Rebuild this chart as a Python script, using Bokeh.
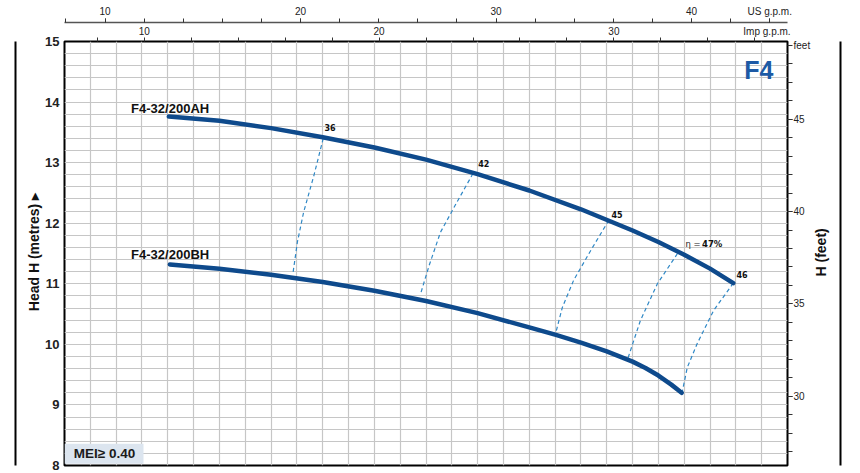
import math
from bokeh.plotting import figure
from bokeh.models import Range1d, LinearAxis, FixedTicker
from bokeh.core.properties import value
from bokeh.embed import file_html
from bokeh.resources import INLINE

# ---------------- data (flow Q in l/min, head H in metres) ----------------
q_ah = [50.2, 60, 70, 80, 90, 100, 110, 120, 130, 140, 145, 150, 155, 159.5]
h_ah = [13.76, 13.69, 13.57, 13.42, 13.25, 13.05, 12.81, 12.54, 12.23, 11.88, 11.69, 11.48, 11.25, 11.01]
q_bh = [50.4, 60, 70, 80, 90, 100, 110, 120, 125, 130, 135, 140, 142.5, 145, 147.5, 149.5]
h_bh = [11.32, 11.25, 11.15, 11.03, 10.885, 10.715, 10.515, 10.28, 10.16, 10.03, 9.885, 9.715,
        9.61, 9.485, 9.335, 9.20]

eff_names = ["36", "42", "45", "47", "46"]
eff_q = [[80.1, 78.3, 76.3, 75.1, 74.2],
         [109.1, 106.0, 102.8, 100.6, 98.9],
         [135.4, 131.9, 128.6, 126.4, 125.1],
         [148.7, 144.8, 141.5, 139.1],
         [159.5, 155.7, 152.5, 150.6, 149.6]]
eff_h = [[13.40, 12.79, 12.18, 11.69, 11.15],
         [12.82, 12.35, 11.85, 11.30, 10.82],
         [12.05, 11.55, 11.06, 10.61, 10.18],
         [11.50, 11.00, 10.39, 9.77],
         [11.01, 10.56, 10.01, 9.62, 9.21]]

m_ticks = [8, 9, 10, 11, 12, 13, 14, 15]
ft_ticks = [30, 35, 40, 45, 49]
imp_ticks = [10, 20, 30]
us_ticks = [10, 20, 30, 40, 44]

Q_MIN, Q_MAX = 30, 170
H_MIN, H_MAX = 8, 15
L_PER_IMP = 4.54609
L_PER_US = 3.78541
M_PER_FT = 0.3048

FONT = "Liberation Sans"
CURVE = "#0e4a8c"
DASH = "#2f88c6"

p = figure(width=858, height=472,
           x_range=Range1d(Q_MIN, Q_MAX), y_range=Range1d(H_MIN, H_MAX),
           x_axis_location=None, y_axis_location=None,
           toolbar_location=None, output_backend="svg",
           min_border_left=64, min_border_right=71, min_border_top=41, min_border_bottom=7)
p.outline_line_color = "black"
p.outline_line_width = 2
p.background_fill_color = "white"
p.border_fill_color = "white"

p.extra_x_ranges = {"imp": Range1d(Q_MIN / L_PER_IMP, Q_MAX / L_PER_IMP),
                    "us": Range1d(Q_MIN / L_PER_US, Q_MAX / L_PER_US)}
p.extra_y_ranges = {"ft": Range1d(H_MIN / M_PER_FT, H_MAX / M_PER_FT)}

# grid
p.xgrid.ticker = FixedTicker(ticks=list(range(30, 171, 5)))
p.ygrid.ticker = FixedTicker(ticks=[round(8 + 0.2 * i, 1) for i in range(36)])
for g in (p.xgrid, p.ygrid):
    g.grid_line_color = "#c6c6c6"
    g.grid_line_width = 1.2


def base_axis(ax, size="10px", bold=False, color="#222222"):
    ax.major_label_text_font = FONT
    ax.major_label_text_font_size = size
    ax.major_label_text_font_style = "bold" if bold else "normal"
    ax.major_label_text_color = color
    ax.axis_line_color = None
    ax.major_tick_in = 0
    ax.minor_tick_in = 0
    return ax


def label_axis(text, pos, standoff):
    ax = LinearAxis(ticker=FixedTicker(ticks=[pos]), major_label_overrides={pos: text})
    base_axis(ax, "14px", True, "#111111")
    ax.major_label_orientation = math.pi / 2
    ax.major_tick_out = 0
    ax.major_tick_line_color = None
    ax.minor_tick_line_color = None
    ax.minor_tick_out = 0
    ax.major_label_standoff = standoff
    return ax


def line_axis():
    ax = LinearAxis(ticker=FixedTicker(ticks=[]))
    ax.major_tick_out = 0
    ax.major_tick_in = 0
    ax.minor_tick_out = 0
    ax.minor_tick_in = 0
    ax.major_tick_line_color = None
    ax.minor_tick_line_color = None
    ax.major_label_text_font_size = "0px"
    ax.axis_line_color = "black"
    ax.axis_line_width = 2
    return ax


# left metres axis
ax_m = LinearAxis(ticker=FixedTicker(ticks=m_ticks))
base_axis(ax_m, "13px", True, "#222222")
ax_m.major_tick_out = 0
ax_m.major_tick_line_color = None
ax_m.minor_tick_line_color = None
ax_m.major_label_standoff = 5
p.add_layout(ax_m, "left")
p.add_layout(label_axis("Head H (metres) \u25b8", 12.5, 8), "left")
p.add_layout(line_axis(), "left")

# right feet axis
ax_ft = LinearAxis(y_range_name="ft",
                   ticker=FixedTicker(ticks=ft_ticks, minor_ticks=list(range(27, 49))),
                   major_label_overrides={49: "feet"})
base_axis(ax_ft, "10px")
ax_ft.major_tick_out = 5
ax_ft.minor_tick_out = 5
ax_ft.major_tick_line_color = "#333333"
ax_ft.minor_tick_line_color = "#333333"
ax_ft.major_label_standoff = 1
p.add_layout(ax_ft, "right")
p.add_layout(label_axis("H (feet)", 11.12, 8), "right")
p.add_layout(line_axis(), "right")

# top axes: Imp g.p.m. on the frame, US g.p.m. above it
IMP_NAME_POS = 36.52
imp_minor = list(range(8, 37, 2))
us_minor = list(range(8, 45, 2))
ax_imp = LinearAxis(x_range_name="imp",
                    ticker=FixedTicker(ticks=imp_ticks + [IMP_NAME_POS], minor_ticks=imp_minor),
                    major_label_overrides={IMP_NAME_POS: "Imp g.p.m."})
base_axis(ax_imp, "10px")
ax_imp.major_tick_out = 4
ax_imp.minor_tick_out = 4
ax_imp.major_tick_line_color = None
ax_imp.minor_tick_line_color = "#333333"
ax_imp.major_label_standoff = 1
p.add_layout(ax_imp, "above")

ax_us = LinearAxis(x_range_name="us", ticker=FixedTicker(ticks=us_ticks, minor_ticks=us_minor),
                   major_label_overrides={44: "US g.p.m."})
base_axis(ax_us, "10px")
ax_us.axis_line_color = "#555555"
ax_us.axis_line_width = 1.6
ax_us.major_tick_out = 4
ax_us.minor_tick_out = 4
ax_us.major_tick_line_color = "#333333"
ax_us.minor_tick_line_color = "#333333"
ax_us.major_label_standoff = 2
p.add_layout(ax_us, "above")

# MEI box
p.quad(left=[Q_MIN], right=[45.3], bottom=[8.03], top=[8.36],
       fill_color="#dce5ef", line_color=None)
p.text(x=[31.8], y=[8.2], text=["MEI\u2265 0.40"], text_font=value(FONT),
       text_font_style="bold", text_font_size="13.5px", text_color="#1a1a1a",
       text_baseline="middle", text_align="left")

# efficiency curves
p.multi_line(xs=eff_q, ys=eff_h, line_color=DASH, line_width=1.2, line_dash="4 3")

# pump curves
p.line(q_ah, h_ah, line_color=CURVE, line_width=4.5, line_cap="round", line_join="round")
p.line(q_bh, h_bh, line_color=CURVE, line_width=4.5, line_cap="round", line_join="round")

# curve names
p.text(x=[42.9, 42.9], y=[13.886, 11.487], text=["F4-32/200AH", "F4-32/200BH"],
       text_font=value(FONT), text_font_style="bold", text_font_size="13px",
       text_color="#111111", text_align="left", text_baseline="middle")

# efficiency labels
p.text(x=[81.4, 111.2, 137.0, 161.2], y=[13.588, 12.98, 12.14, 11.15],
       text=[eff_names[0], eff_names[1], eff_names[2], eff_names[4]],
       text_font=value("DejaVu Sans"), text_font_style="bold", text_font_size="8px",
       text_color="#111111", text_align="center", text_baseline="middle")
p.text(x=[150.25], y=[11.65], text=["\u03b7 ="], text_font=value("DejaVu Sans"),
       text_font_size="8.5px", text_color="#222222", text_align="left", text_baseline="middle")
p.text(x=[153.45], y=[11.65], text=[eff_names[3] + "%"], text_font=value("DejaVu Sans"),
       text_font_style="bold", text_font_size="8.5px", text_color="#111111",
       text_align="left", text_baseline="middle")

# F4 badge
p.text(x=[164.45], y=[14.526], text=["F4"], text_font=value(FONT), text_font_style="bold",
       text_font_size="25px", text_color="#1d5aa5", text_align="center", text_baseline="middle")

open("out.html", "w").write(file_html(p, INLINE))
